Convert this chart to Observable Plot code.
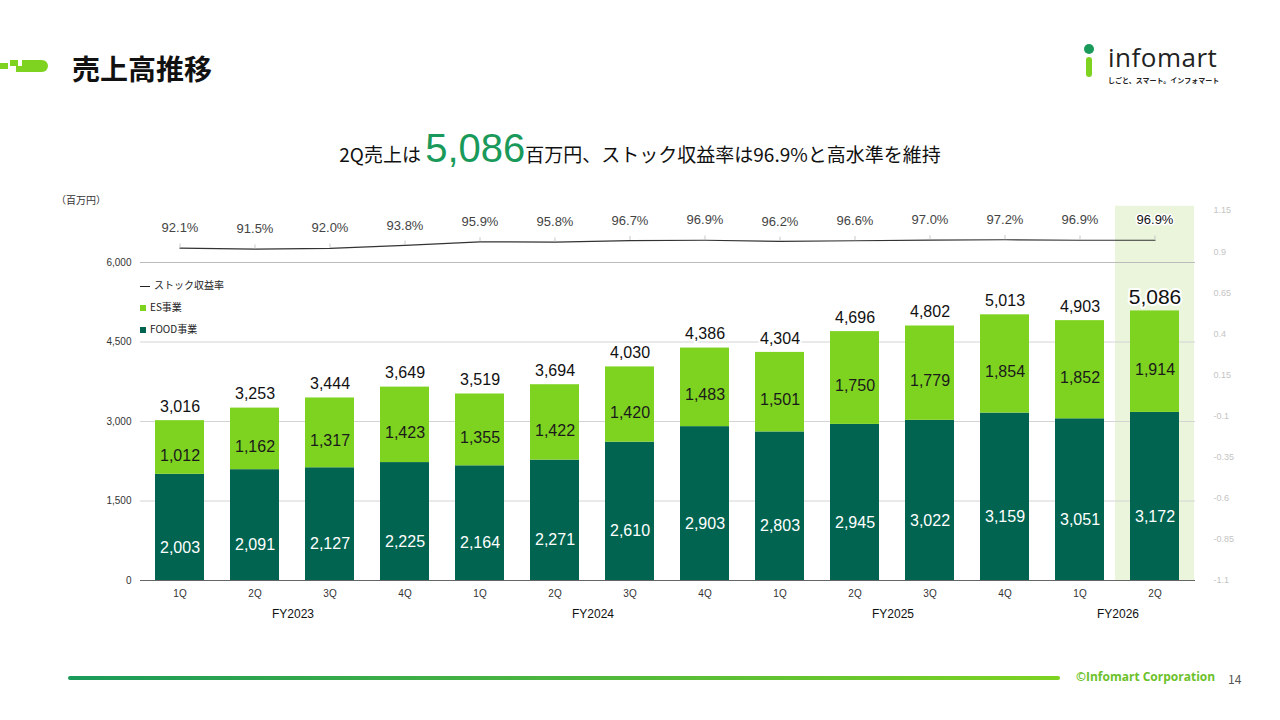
<!DOCTYPE html>
<html><head><meta charset="utf-8">
<script src="https://cdn.jsdelivr.net/npm/d3@7"></script>
<script src="https://cdn.jsdelivr.net/npm/@observablehq/plot@0.6"></script>
<style>
body{margin:0;width:1280px;height:720px;position:relative;background:#fff;font-family:"Noto Sans CJK JP","Noto Sans",sans-serif;overflow:hidden}
.abs{position:absolute;white-space:nowrap}
</style></head><body>
<div id="chart" class="abs" style="left:0;top:0"></div>
<div class="abs" style="left:0;top:60px;width:48px;height:12px">
 <div class="abs" style="left:0;top:3px;width:8px;height:6px;background:#7ed321"></div>
 <div class="abs" style="left:10px;top:0;width:8px;height:6px;background:#7ed321"></div>
 <div class="abs" style="left:16px;top:6px;width:6px;height:6px;background:#7ed321"></div>
 <div class="abs" style="left:22px;top:0;width:26px;height:12px;background:#7ed321;border-radius:0 6px 6px 0"></div>
</div>
<div class="abs" style="left:72px;top:48px;font-size:28px;font-weight:bold;color:#111">売上高推移</div>
<div class="abs" style="left:1078px;top:44px;width:24px;height:40px">
 <div class="abs" style="left:6px;top:0;width:10px;height:10px;border-radius:50%;background:#1a9a5a"></div>
 <div class="abs" style="left:8px;top:13px;width:6px;height:20px;background:#7ed321;border-radius:3px"></div>
</div>
<div class="abs" style="left:1108px;top:42px;font-size:26px;line-height:30px;color:#222;font-family:'Open Sans',sans-serif;letter-spacing:0.5px">infomart</div>
<div class="abs" style="left:1108px;top:76px;font-size:7px;line-height:8px;color:#222;font-weight:bold">しごと、スマート。インフォマート</div>
<div class="abs" style="left:0;width:1280px;top:126px;text-align:center;font-size:19px;color:#111">2Q売上は <span style="font-size:40px;color:#1a9a5a;font-family:'Liberation Sans',sans-serif">5,086</span>百万円、ストック収益率は96.9%と高水準を維持</div>
<div class="abs" style="left:56px;top:192px;font-size:10px;color:#333">（百万円）</div>
<div class="abs" style="left:140px;top:274px;font-size:10px;color:#222;line-height:22px">
 <div><span style="display:inline-block;width:10px;height:1px;background:#222;vertical-align:middle;margin-right:4px"></span>ストック収益率</div>
 <div><span style="display:inline-block;width:6px;height:6px;background:#7ed321;margin-right:4px"></span>ES事業</div>
 <div><span style="display:inline-block;width:6px;height:6px;background:#006450;margin-right:4px"></span>FOOD事業</div>
</div>
<div class="abs" style="left:68px;top:676px;width:992px;height:4px;border-radius:2px;background:linear-gradient(90deg,#1a9a5a,#7ed321)"></div>
<div class="abs" style="left:1076px;top:668px;font-size:12px;font-weight:bold;color:#6cc12a;font-family:'Open Sans',sans-serif">©Infomart Corporation</div>
<div class="abs" style="left:1228px;top:670px;font-size:12px;color:#555">14</div>
<script>
const years = ["FY2023","FY2023","FY2023","FY2023","FY2024","FY2024","FY2024","FY2024","FY2025","FY2025","FY2025","FY2025","FY2026","FY2026"];
const quarters = ["1Q","2Q","3Q","4Q","1Q","2Q","3Q","4Q","1Q","2Q","3Q","4Q","1Q","2Q"];
const food = [2003,2091,2127,2225,2164,2271,2610,2903,2803,2945,3022,3159,3051,3172];
const es = [1012,1162,1317,1423,1355,1422,1420,1483,1501,1750,1779,1854,1852,1914];
const total = [3016,3253,3444,3649,3519,3694,4030,4386,4304,4696,4802,5013,4903,5086];
const stock = [92.1,91.5,92.0,93.8,95.9,95.8,96.7,96.9,96.2,96.6,97.0,97.2,96.9,96.9];
const leftTicks = [0,1500,3000,4500,6000];
const rightTicks = [-1.1,-0.85,-0.6,-0.35,-0.1,0.15,0.4,0.65,0.9,1.15];

const yMax = 6000 + 52/318*6000;
const rMin = -1.1, rMax = 1.15;
const toLeft = r => (r - rMin)/(rMax - rMin)*yMax;
const fromLeft = v => Math.round(((v/yMax)*(rMax-rMin)+rMin)*100)/100;

const keys = years.map((y,i)=>y+"-"+quarters[i]);
const rows = keys.map((k,i)=>({k,q:quarters[i],year:years[i],food:food[i],es:es[i],total:total[i],stock:stock[i],last:i===keys.length-1}));
const fyLabels = rows.filter(d=> (d.q==="2Q" && d.year!=="FY2026") || (d.year==="FY2026" && d.q==="1Q"));
const fmt = d3.format(",");

const chart = Plot.plot({
  width:1280, height:720,
  marginTop:210, marginBottom:140, marginLeft:140, marginRight:85,
  style:{fontFamily:"'Liberation Sans',Arial,sans-serif"},
  x:{domain:keys, paddingInner:0.34, paddingOuter:0.17, label:null},
  y:{domain:[0,yMax], label:null},
  marks:[
    Plot.barY(rows.filter(d=>d.last),{x:"k",y1:0,y2:toLeft(1.15)+80,fill:"#eaf5dc",insetLeft:-15,insetRight:-15}),
    Plot.ruleY(leftTicks,{stroke:"#d4d4d4"}),
    Plot.ruleY([6000],{stroke:"#bbb"}),
    Plot.axisX({tickFormat:k=>k.split("-")[1], tickSize:0, fontSize:10, fill:"#333", label:null}),
    Plot.axisY({ticks:leftTicks, tickFormat:fmt, tickSize:0, fontSize:10, fill:"#333", label:null}),
    Plot.axisY({anchor:"right", ticks:rightTicks.map(toLeft), tickFormat:fromLeft, tickSize:0, tickPadding:18, fontSize:9, color:"#c4c4c4", label:null}),
    Plot.barY(rows,{x:"k",y1:0,y2:"food",fill:"#006450"}),
    Plot.barY(rows,{x:"k",y1:"food",y2:"total",fill:"#7ed321"}),
    Plot.text(rows,{x:"k",y:d=>d.food/2,dy:20,text:d=>fmt(d.food),fill:"#fff",fontSize:16}),
    Plot.text(rows,{x:"k",y:d=>d.food+d.es/2,dy:8,text:d=>fmt(d.es),fill:"#1a1a1a",fontSize:16}),
    Plot.text(rows,{x:"k",y:"total",dy:-14,text:d=>fmt(d.total),fontSize:d=>d.last?21:16,fontWeight:d=>d.last?"bold":"normal",fill:"#111",stroke:"#fff",strokeWidth:4,paintOrder:"stroke"}),
    Plot.ruleY([0],{stroke:"#666"}),
    Plot.line(rows,{x:"k",y:d=>toLeft(d.stock/100),stroke:"#333",strokeWidth:1.2}),
    Plot.ruleX(rows,{x:"k",y1:d=>toLeft(d.stock/100),y2:d=>toLeft(d.stock/100)+80,stroke:"#bbb",strokeWidth:0.8}),
    Plot.text(rows,{x:"k",y:d=>toLeft(d.stock/100),dy:-20,text:d=>d.stock.toFixed(1)+"%",fontSize:13,fontWeight:d=>d.last?"bold":"normal",fill:d=>d.last?"#111":"#444",stroke:"#fff",strokeWidth:3,paintOrder:"stroke"}),
    Plot.text(fyLabels,{x:"k",y:0,dy:34,dx:38,text:"year",fontSize:12,fill:"#111"})
  ]
});
document.getElementById("chart").appendChild(chart);
</script>
</body></html>
